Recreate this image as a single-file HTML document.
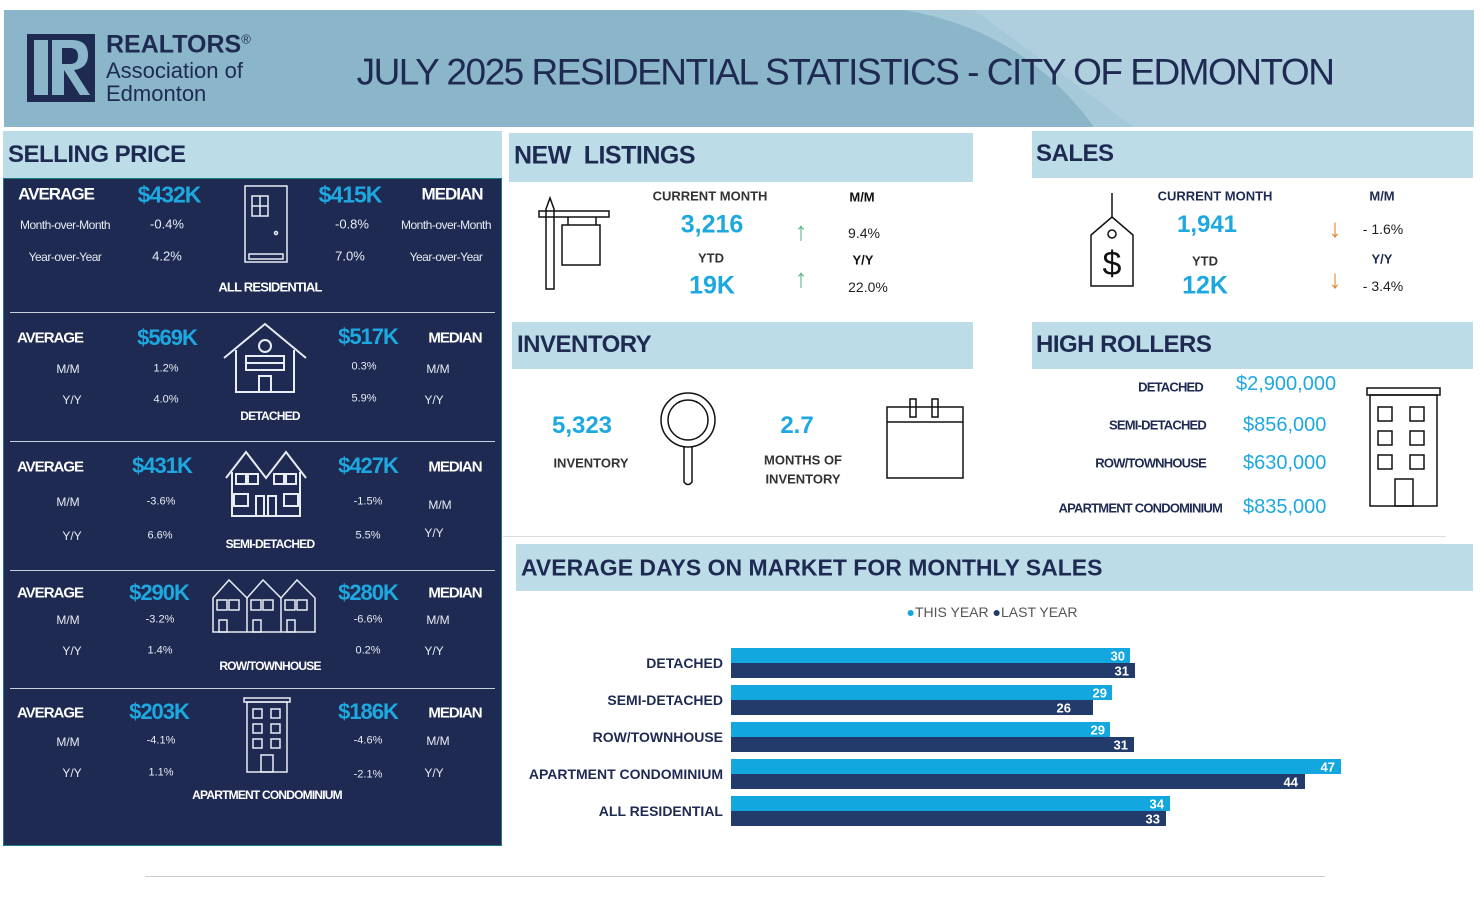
<!DOCTYPE html>
<html><head><meta charset="utf-8"><style>
*{margin:0;padding:0;box-sizing:border-box}
body{width:1480px;height:908px;background:#fff;position:relative;overflow:hidden;font-family:"Liberation Sans",sans-serif;color:#1e2a52}
.a{position:absolute}
.c{position:absolute;transform:translate(-50%,-50%);white-space:nowrap;line-height:1}
.l{position:absolute;transform:translateY(-50%);white-space:nowrap;line-height:1}
.r{position:absolute;transform:translate(-100%,-50%);white-space:nowrap;line-height:1}
.hb{position:absolute;background:#bcdde8}
.ht{font-weight:bold;color:#1e2a52;letter-spacing:-0.5px}
.w{color:#fff}.cy{color:#1ea8e0;font-weight:bold}
.b{font-weight:bold}
.s{font-size:12px;color:#e8ecf4}
</style></head><body>
<!-- header -->
<div class="a" style="left:4px;top:10px;width:1470px;height:117px;background:#8bb6ca;overflow:hidden">
<svg width="1470" height="117" class="a" style="left:0;top:0"><path d="M900 0 L1470 0 L1470 117 L1090 117 Q1020 20 900 0Z" fill="#a6c9d9"/><path d="M970 0 L1470 0 L1470 117 L1130 117Z" fill="#b5d4e2" opacity="0.6"/></svg>
</div>
<div class="a" style="left:27px;top:34px;width:68px;height:68px;background:#1e2a52"></div>
<div class="a" style="left:34px;top:40px;width:14px;height:55px;background:#8bb6ca"></div>
<svg class="a" style="left:52px;top:40px" width="40" height="56"><path d="M0 0 H20 Q36 0 36 15 Q36 28 22 30 L38 55 H28 L12 30 V55 H0Z M10 8 V24 H18 Q26 24 26 16 Q26 8 18 8Z" fill="#8bb6ca" fill-rule="evenodd"/></svg>
<div class="l b" style="left:106px;top:45px;font-size:25px;color:#1e2a52">REALTORS<sup style="font-size:13px;font-weight:normal">®</sup></div>
<div class="l" style="left:106px;top:71px;font-size:22px">Association of</div>
<div class="l" style="left:106px;top:94px;font-size:22px">Edmonton</div>
<div class="c" style="left:845px;top:72px;font-size:37px;letter-spacing:-1.5px;color:#1e2a52">JULY 2025 RESIDENTIAL STATISTICS - CITY OF EDMONTON</div>

<!-- selling price -->
<div class="hb" style="left:3px;top:131px;width:499px;height:47px"></div>
<div class="l ht" style="left:8px;top:155px;font-size:24px">SELLING PRICE</div>
<div class="a" style="left:3px;top:178px;width:499px;height:668px;background:#1e2a52;border:1px solid #1f7a86"></div>
<div class="a" style="left:10px;top:312px;width:485px;height:1px;background:#c8d0e0"></div>
<div class="a" style="left:10px;top:441px;width:485px;height:1px;background:#c8d0e0"></div>
<div class="a" style="left:10px;top:570px;width:485px;height:1px;background:#c8d0e0"></div>
<div class="a" style="left:10px;top:688px;width:485px;height:1px;background:#c8d0e0"></div>

<!-- all residential -->
<div class="c b w" style="left:56px;top:194px;font-size:17px;letter-spacing:-1px">AVERAGE</div>
<div class="c cy" style="left:169px;top:195px;font-size:23px;letter-spacing:-1px">$432K</div>
<div class="c cy" style="left:350px;top:195px;font-size:23px;letter-spacing:-1px">$415K</div>
<div class="c b w" style="left:452px;top:194px;font-size:17px;letter-spacing:-1px">MEDIAN</div>
<div class="c s" style="left:65px;top:225px;letter-spacing:-0.5px">Month-over-Month</div>
<div class="c s" style="left:167px;top:224px;font-size:13px">-0.4%</div>
<div class="c s" style="left:352px;top:224px;font-size:13px">-0.8%</div>
<div class="c s" style="left:446px;top:225px;letter-spacing:-0.5px">Month-over-Month</div>
<div class="c s" style="left:65px;top:257px;letter-spacing:-0.5px">Year-over-Year</div>
<div class="c s" style="left:167px;top:256px;font-size:13px">4.2%</div>
<div class="c s" style="left:350px;top:256px;font-size:13px">7.0%</div>
<div class="c s" style="left:446px;top:257px;letter-spacing:-0.5px">Year-over-Year</div>
<div class="c b w" style="left:270px;top:287px;font-size:13px;letter-spacing:-0.8px">ALL RESIDENTIAL</div>
<svg class="a" style="left:244px;top:185px" width="46" height="80" stroke="#e8ecf4" fill="none" stroke-width="1.5"><rect x="1" y="1" width="42" height="76"/><rect x="8" y="11" width="16" height="20"/><line x1="16" y1="11" x2="16" y2="31"/><line x1="8" y1="21" x2="24" y2="21"/><circle cx="32" cy="48" r="1.5"/><rect x="5" y="69" width="34" height="5"/></svg>

<!-- detached -->
<div class="c b w" style="left:50px;top:338px;font-size:15px;letter-spacing:-1px">AVERAGE</div>
<div class="c cy" style="left:167px;top:338px;font-size:22px;letter-spacing:-1px">$569K</div>
<div class="c cy" style="left:368px;top:337px;font-size:22px;letter-spacing:-1px">$517K</div>
<div class="c b w" style="left:455px;top:338px;font-size:15px;letter-spacing:-1px">MEDIAN</div>
<div class="c s" style="left:68px;top:369px">M/M</div><div class="c s" style="left:166px;top:369px;font-size:11px">1.2%</div>
<div class="c s" style="left:364px;top:367px;font-size:11px">0.3%</div><div class="c s" style="left:438px;top:369px">M/M</div>
<div class="c s" style="left:72px;top:400px">Y/Y</div><div class="c s" style="left:166px;top:400px;font-size:11px">4.0%</div>
<div class="c s" style="left:364px;top:399px;font-size:11px">5.9%</div><div class="c s" style="left:434px;top:400px">Y/Y</div>
<div class="c b w" style="left:270px;top:416px;font-size:12px;letter-spacing:-0.8px">DETACHED</div>
<svg class="a" style="left:222px;top:322px" width="86" height="72" stroke="#e8ecf4" fill="none" stroke-width="2"><path d="M2 36 L43 2 L84 36"/><path d="M14 28 V70 H72 V28"/><circle cx="43" cy="24" r="6"/><rect x="24" y="34" width="38" height="14"/><line x1="24" y1="41" x2="62" y2="41"/><rect x="37" y="54" width="12" height="16"/></svg>

<!-- semi -->
<div class="c b w" style="left:50px;top:467px;font-size:15px;letter-spacing:-1px">AVERAGE</div>
<div class="c cy" style="left:162px;top:466px;font-size:22px;letter-spacing:-1px">$431K</div>
<div class="c cy" style="left:368px;top:466px;font-size:22px;letter-spacing:-1px">$427K</div>
<div class="c b w" style="left:455px;top:467px;font-size:15px;letter-spacing:-1px">MEDIAN</div>
<div class="c s" style="left:68px;top:502px">M/M</div><div class="c s" style="left:161px;top:502px;font-size:11px">-3.6%</div>
<div class="c s" style="left:368px;top:502px;font-size:11px">-1.5%</div><div class="c s" style="left:440px;top:505px">M/M</div>
<div class="c s" style="left:72px;top:536px">Y/Y</div><div class="c s" style="left:160px;top:536px;font-size:11px">6.6%</div>
<div class="c s" style="left:368px;top:536px;font-size:11px">5.5%</div><div class="c s" style="left:434px;top:533px">Y/Y</div>
<div class="c b w" style="left:270px;top:544px;font-size:12px;letter-spacing:-0.8px">SEMI-DETACHED</div>
<svg class="a" style="left:224px;top:448px" width="84" height="70" stroke="#e8ecf4" fill="none" stroke-width="2"><path d="M2 30 L22 4 L42 30 L62 4 L82 30"/><path d="M8 24 V68 H76 V24"/><rect x="12" y="26" width="10" height="10"/><rect x="24" y="26" width="10" height="10"/><rect x="50" y="26" width="10" height="10"/><rect x="62" y="26" width="10" height="10"/><rect x="10" y="46" width="14" height="12"/><rect x="60" y="46" width="14" height="12"/><rect x="32" y="48" width="8" height="20"/><rect x="44" y="48" width="8" height="20"/></svg>

<!-- row -->
<div class="c b w" style="left:50px;top:593px;font-size:15px;letter-spacing:-1px">AVERAGE</div>
<div class="c cy" style="left:159px;top:593px;font-size:22px;letter-spacing:-1px">$290K</div>
<div class="c cy" style="left:368px;top:593px;font-size:22px;letter-spacing:-1px">$280K</div>
<div class="c b w" style="left:455px;top:593px;font-size:15px;letter-spacing:-1px">MEDIAN</div>
<div class="c s" style="left:68px;top:620px">M/M</div><div class="c s" style="left:160px;top:620px;font-size:11px">-3.2%</div>
<div class="c s" style="left:368px;top:620px;font-size:11px">-6.6%</div><div class="c s" style="left:438px;top:620px">M/M</div>
<div class="c s" style="left:72px;top:651px">Y/Y</div><div class="c s" style="left:160px;top:651px;font-size:11px">1.4%</div>
<div class="c s" style="left:368px;top:651px;font-size:11px">0.2%</div><div class="c s" style="left:434px;top:651px">Y/Y</div>
<div class="c b w" style="left:270px;top:666px;font-size:12px;letter-spacing:-0.8px">ROW/TOWNHOUSE</div>
<svg class="a" style="left:211px;top:578px" width="106" height="56" stroke="#e8ecf4" fill="none" stroke-width="1.5"><path d="M2 54 V20 L18 2 L36 20 L52 2 L70 20 L86 2 L104 20 V54 Z"/><line x1="36" y1="20" x2="36" y2="54"/><line x1="70" y1="20" x2="70" y2="54"/><rect x="6" y="22" width="10" height="10"/><rect x="18" y="22" width="10" height="10"/><rect x="40" y="22" width="10" height="10"/><rect x="52" y="22" width="10" height="10"/><rect x="74" y="22" width="10" height="10"/><rect x="86" y="22" width="10" height="10"/><rect x="8" y="42" width="8" height="12"/><rect x="42" y="42" width="8" height="12"/><rect x="76" y="42" width="8" height="12"/></svg>

<!-- apt -->
<div class="c b w" style="left:50px;top:713px;font-size:15px;letter-spacing:-1px">AVERAGE</div>
<div class="c cy" style="left:159px;top:712px;font-size:22px;letter-spacing:-1px">$203K</div>
<div class="c cy" style="left:368px;top:712px;font-size:22px;letter-spacing:-1px">$186K</div>
<div class="c b w" style="left:455px;top:713px;font-size:15px;letter-spacing:-1px">MEDIAN</div>
<div class="c s" style="left:68px;top:742px">M/M</div><div class="c s" style="left:161px;top:741px;font-size:11px">-4.1%</div>
<div class="c s" style="left:368px;top:741px;font-size:11px">-4.6%</div><div class="c s" style="left:438px;top:741px">M/M</div>
<div class="c s" style="left:72px;top:773px">Y/Y</div><div class="c s" style="left:161px;top:773px;font-size:11px">1.1%</div>
<div class="c s" style="left:368px;top:775px;font-size:11px">-2.1%</div><div class="c s" style="left:434px;top:773px">Y/Y</div>
<div class="c b w" style="left:267px;top:795px;font-size:12px;letter-spacing:-0.8px">APARTMENT CONDOMINIUM</div>
<svg class="a" style="left:243px;top:697px" width="48" height="76" stroke="#e8ecf4" fill="none" stroke-width="1.5"><rect x="1" y="1" width="46" height="4"/><rect x="4" y="5" width="40" height="70"/><rect x="10" y="12" width="9" height="9"/><rect x="28" y="12" width="9" height="9"/><rect x="10" y="27" width="9" height="9"/><rect x="28" y="27" width="9" height="9"/><rect x="10" y="42" width="9" height="9"/><rect x="28" y="42" width="9" height="9"/><rect x="18" y="58" width="12" height="17"/></svg>

<!-- new listings -->
<div class="hb" style="left:509px;top:133px;width:464px;height:49px"></div>
<div class="l ht" style="left:514px;top:156px;font-size:25px">NEW&nbsp; LISTINGS</div>
<svg class="a" style="left:538px;top:195px" width="74" height="96" stroke="#111" fill="none" stroke-width="1.5"><path d="M8 94 V14 L12 3 L16 14 V94 Z"/><rect x="1" y="16" width="70" height="6"/><line x1="30" y1="22" x2="30" y2="30"/><line x1="58" y1="22" x2="58" y2="30"/><rect x="24" y="30" width="38" height="40"/></svg>
<div class="c b" style="left:710px;top:196px;font-size:13px;color:#333">CURRENT MONTH</div>
<div class="c cy" style="left:712px;top:225px;font-size:25px">3,216</div>
<div class="c b" style="left:711px;top:258px;font-size:13px;color:#333">YTD</div>
<div class="c cy" style="left:712px;top:286px;font-size:25px">19K</div>
<div class="c b" style="left:862px;top:197px;font-size:13px;color:#111">M/M</div>
<div class="c" style="left:864px;top:233px;font-size:14px;color:#222">9.4%</div>
<div class="c b" style="left:863px;top:260px;font-size:13px;color:#111">Y/Y</div>
<div class="c" style="left:868px;top:287px;font-size:14px;color:#222">22.0%</div>
<div class="c" style="left:801px;top:231px;font-size:26px;color:#5cb88a">↑</div>
<div class="c" style="left:801px;top:278px;font-size:26px;color:#5cb88a">↑</div>

<!-- sales -->
<div class="hb" style="left:1032px;top:131px;width:441px;height:47px"></div>
<div class="l ht" style="left:1036px;top:154px;font-size:24px">SALES</div>
<svg class="a" style="left:1088px;top:193px" width="48" height="95" stroke="#111" fill="none" stroke-width="1.5"><line x1="24" y1="0" x2="24" y2="24"/><path d="M24 24 L45 42 V93 H3 V42 Z"/><circle cx="24" cy="41" r="4"/><text x="24" y="82" font-family="Liberation Sans" font-size="34" text-anchor="middle" fill="#111" stroke="none">$</text></svg>
<div class="c b" style="left:1215px;top:196px;font-size:13px;color:#1e2a52">CURRENT MONTH</div>
<div class="c cy" style="left:1207px;top:225px;font-size:24px">1,941</div>
<div class="c b" style="left:1205px;top:261px;font-size:13px;color:#333">YTD</div>
<div class="c cy" style="left:1205px;top:286px;font-size:25px">12K</div>
<div class="c b" style="left:1382px;top:196px;font-size:13px">M/M</div>
<div class="c" style="left:1383px;top:229px;font-size:14px;color:#222">- 1.6%</div>
<div class="c b" style="left:1382px;top:259px;font-size:13px">Y/Y</div>
<div class="c" style="left:1383px;top:286px;font-size:14px;color:#222">- 3.4%</div>
<div class="c" style="left:1335px;top:228px;font-size:26px;color:#e0883a">↓</div>
<div class="c" style="left:1335px;top:279px;font-size:26px;color:#e0883a">↓</div>

<!-- inventory -->
<div class="hb" style="left:512px;top:322px;width:461px;height:47px"></div>
<div class="l ht" style="left:517px;top:345px;font-size:24px">INVENTORY</div>
<div class="c cy" style="left:582px;top:426px;font-size:24px">5,323</div>
<div class="c b" style="left:591px;top:463px;font-size:13px;color:#333">INVENTORY</div>
<svg class="a" style="left:658px;top:392px" width="60" height="96" stroke="#111" fill="none" stroke-width="1.5"><circle cx="30" cy="28" r="27"/><circle cx="30" cy="28" r="20"/><path d="M26 55 V90 Q30 95 34 90 V55"/></svg>
<div class="c cy" style="left:797px;top:426px;font-size:24px">2.7</div>
<div class="c b" style="left:803px;top:460px;font-size:13px;color:#333">MONTHS OF</div>
<div class="c b" style="left:803px;top:479px;font-size:13px;color:#333">INVENTORY</div>
<svg class="a" style="left:886px;top:396px" width="80" height="84" stroke="#111" fill="none" stroke-width="1.5"><rect x="1" y="11" width="76" height="71"/><line x1="1" y1="26" x2="77" y2="26"/><rect x="24" y="3" width="6" height="18"/><rect x="46" y="3" width="6" height="18"/></svg>

<!-- high rollers -->
<div class="hb" style="left:1032px;top:322px;width:441px;height:47px"></div>
<div class="l ht" style="left:1036px;top:345px;font-size:24px">HIGH ROLLERS</div>
<div class="r b" style="left:1203px;top:387px;font-size:13px;letter-spacing:-0.8px">DETACHED</div>
<div class="r b" style="left:1206px;top:425px;font-size:13px;letter-spacing:-0.8px">SEMI-DETACHED</div>
<div class="r b" style="left:1206px;top:463px;font-size:13px;letter-spacing:-0.8px">ROW/TOWNHOUSE</div>
<div class="r b" style="left:1222px;top:508px;font-size:13px;letter-spacing:-0.8px">APARTMENT CONDOMINIUM</div>
<div class="l" style="left:1236px;top:384px;font-size:20px;color:#1ea8e0">$2,900,000</div>
<div class="l" style="left:1243px;top:425px;font-size:20px;color:#1ea8e0">$856,000</div>
<div class="l" style="left:1243px;top:463px;font-size:20px;color:#1ea8e0">$630,000</div>
<div class="l" style="left:1243px;top:507px;font-size:20px;color:#1ea8e0">$835,000</div>
<svg class="a" style="left:1366px;top:386px" width="76" height="122" stroke="#111" fill="none" stroke-width="1.5"><rect x="1" y="2" width="73" height="7"/><rect x="4" y="9" width="67" height="111"/><rect x="12" y="21" width="14" height="14"/><rect x="44" y="21" width="14" height="14"/><rect x="12" y="45" width="14" height="14"/><rect x="44" y="45" width="14" height="14"/><rect x="12" y="69" width="14" height="14"/><rect x="44" y="69" width="14" height="14"/><rect x="29" y="93" width="18" height="27"/></svg>

<div class="a" style="left:503px;top:536px;width:943px;height:1px;background:#ddd"></div>

<!-- days on market -->
<div class="hb" style="left:516px;top:544px;width:957px;height:47px"></div>
<div class="l ht" style="left:521px;top:568px;font-size:23px;letter-spacing:0">AVERAGE DAYS ON MARKET FOR MONTHLY SALES</div>
<div class="c" style="left:992px;top:612px;font-size:14px;color:#555"><span style="color:#12a8df">●</span>THIS YEAR <span style="color:#233b6b">●</span>LAST YEAR</div>

<div class="r b" style="left:723px;top:663px;font-size:14px">DETACHED</div>
<div class="r b" style="left:723px;top:700px;font-size:14px">SEMI-DETACHED</div>
<div class="r b" style="left:723px;top:737px;font-size:14px">ROW/TOWNHOUSE</div>
<div class="r b" style="left:723px;top:774px;font-size:14px">APARTMENT CONDOMINIUM</div>
<div class="r b" style="left:723px;top:811px;font-size:14px">ALL RESIDENTIAL</div>

<div class="a" style="left:731px;top:648px;width:399px;height:15px;background:#12a8df"></div>
<div class="a" style="left:731px;top:663px;width:404px;height:15px;background:#233b6b"></div>
<div class="a" style="left:731px;top:685px;width:381px;height:15px;background:#12a8df"></div>
<div class="a" style="left:731px;top:700px;width:362px;height:15px;background:#233b6b"></div>
<div class="a" style="left:731px;top:722px;width:379px;height:15px;background:#12a8df"></div>
<div class="a" style="left:731px;top:737px;width:403px;height:15px;background:#233b6b"></div>
<div class="a" style="left:731px;top:759px;width:610px;height:15px;background:#12a8df"></div>
<div class="a" style="left:731px;top:774px;width:574px;height:15px;background:#233b6b"></div>
<div class="a" style="left:731px;top:796px;width:439px;height:15px;background:#12a8df"></div>
<div class="a" style="left:731px;top:811px;width:435px;height:15px;background:#233b6b"></div>

<div class="r b w" style="left:1125px;top:656px;font-size:13px">30</div>
<div class="r b w" style="left:1129px;top:671px;font-size:13px">31</div>
<div class="r b w" style="left:1107px;top:693px;font-size:13px">29</div>
<div class="r b w" style="left:1071px;top:708px;font-size:13px">26</div>
<div class="r b w" style="left:1105px;top:730px;font-size:13px">29</div>
<div class="r b w" style="left:1128px;top:745px;font-size:13px">31</div>
<div class="r b w" style="left:1335px;top:767px;font-size:13px">47</div>
<div class="r b w" style="left:1298px;top:782px;font-size:13px">44</div>
<div class="r b w" style="left:1164px;top:804px;font-size:13px">34</div>
<div class="r b w" style="left:1160px;top:819px;font-size:13px">33</div>

<div class="a" style="left:145px;top:876px;width:1180px;height:1px;background:#ccc"></div>
</body></html>
